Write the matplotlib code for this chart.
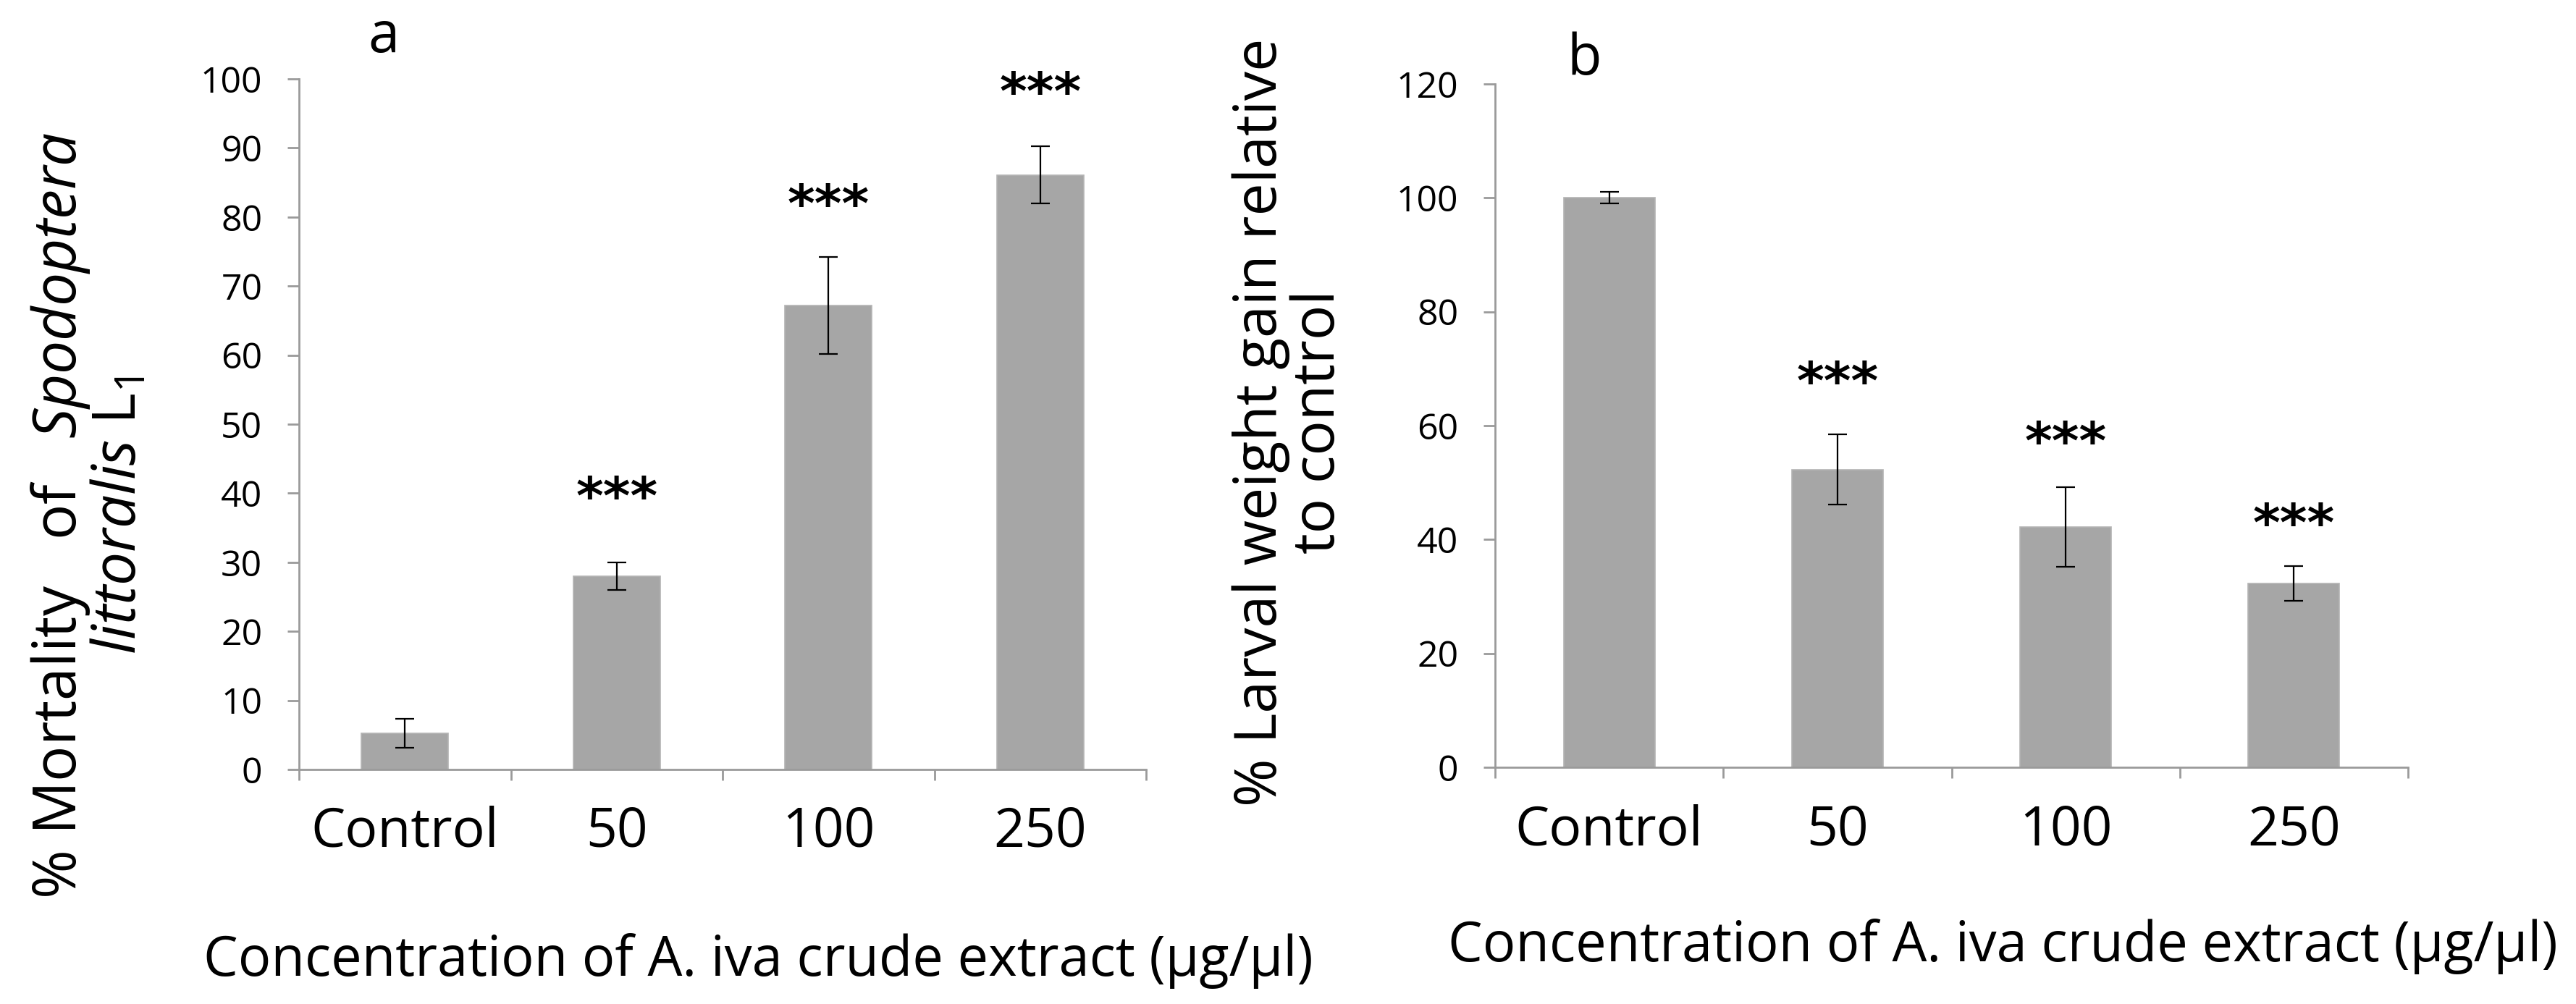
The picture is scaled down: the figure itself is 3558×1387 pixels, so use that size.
import matplotlib
matplotlib.use("Agg")
import matplotlib.pyplot as plt

plt.rcParams['font.family'] = ['Open Sans', 'DejaVu Sans']
plt.rcParams['mathtext.fontset'] = 'custom'
plt.rcParams['mathtext.rm'] = 'Open Sans'
plt.rcParams['mathtext.it'] = 'Open Sans:italic'

# data
categories = ['Control', '50', '100', '250']

mortality = [5.2, 28.0, 67.2, 86.1]
mortality_err = [2.1, 2.0, 7.0, 4.1]
mortality_stars = ['', '***', '***', '***']
mortality_star_y = [0, 41.2, 83.5, 99.8]

weight_gain = [100.0, 52.3, 42.2, 32.3]
weight_gain_err = [1.0, 6.2, 7.0, 3.0]
weight_stars = ['', '***', '***', '***']
weight_star_y = [0, 69.7, 59.2, 44.8]

W, H = 3558, 1387
fig = plt.figure(figsize=(W / 100, H / 100), dpi=100)

BAR = '#a6a6a6'
AXC = '#9a9a9a'


def px(x, y):
    # pixel position -> figure fraction
    return x / W, 1 - y / H


def panel(rect, values, errs, stars, star_y, ymax, ystep, width):
    ax = fig.add_axes(rect)
    xs = range(len(categories))
    ax.bar(xs, values, width=width, color=BAR, edgecolor='#b4b4b4', linewidth=1.2, zorder=2)
    ax.errorbar(xs, values, yerr=errs, fmt='none', ecolor='black',
                elinewidth=1.6, capsize=9.5, capthick=1.6, zorder=3)
    for x, s, y in zip(xs, stars, star_y):
        if s:
            ax.annotate(s, (x, y), xytext=(0, -0.55 * 52), textcoords='offset points',
                        ha='center', va='baseline', fontsize=52, family='DejaVu Sans',
                        fontweight='bold')
    ax.set_xlim(-0.5, len(categories) - 0.5)
    ax.set_ylim(0, ymax)
    ax.set_yticks(range(0, ymax + 1, ystep))
    ax.set_xticks([i - 0.5 for i in range(len(categories) + 1)])
    ax.set_xticklabels([])
    ax.set_xticks(list(xs), minor=True)
    ax.set_xticklabels(categories, minor=True, fontsize=54)
    ax.tick_params(axis='x', which='minor', length=0, pad=36)
    ax.tick_params(axis='x', which='major', length=11, width=2, color=AXC, direction='out')
    ax.tick_params(axis='y', length=11.5, width=2, color=AXC, direction='out',
                   labelsize=36, pad=25)
    for side in ('top', 'right'):
        ax.spines[side].set_visible(False)
    for side in ('left', 'bottom'):
        ax.spines[side].set_color(AXC)
        ax.spines[side].set_linewidth(2)
    return ax


ax_a = panel([413 / W, 1 - 1063 / H, 1170 / W, 954 / H],
             mortality, mortality_err, mortality_stars, mortality_star_y, 100, 10, 0.41)
ax_b = panel([2065 / W, 1 - 1060 / H, 1261 / W, 944 / H],
             weight_gain, weight_gain_err, weight_stars, weight_star_y, 120, 20, 0.40)

# panel letters
fig.text(*px(530, 72), 'a', ha='center', va='baseline', fontsize=56)
fig.text(*px(2188, 103), 'b', ha='center', va='baseline', fontsize=56)

# axis titles
xlab = 'Concentration of A. iva crude extract (\u00b5g/\u00b5l)'
fig.text(*px(1047, 1348), xlab, ha='center', va='baseline', fontsize=54.5)
fig.text(*px(2766, 1328), xlab, ha='center', va='baseline', fontsize=54.5)

fig.text(*px(124, 712), '% Mortality   of   $\\mathit{Spodoptera}$\n$\\mathit{littoralis}$ L$_1$',
         rotation=90, ha='center', va='center', multialignment='center',
         fontsize=59, linespacing=0.98)
fig.text(*px(1782, 583), '% Larval weight gain relative\nto control',
         rotation=90, ha='center', va='center', multialignment='center',
         fontsize=58, linespacing=1.0)

fig.savefig('out.png', dpi=100, facecolor='white')
